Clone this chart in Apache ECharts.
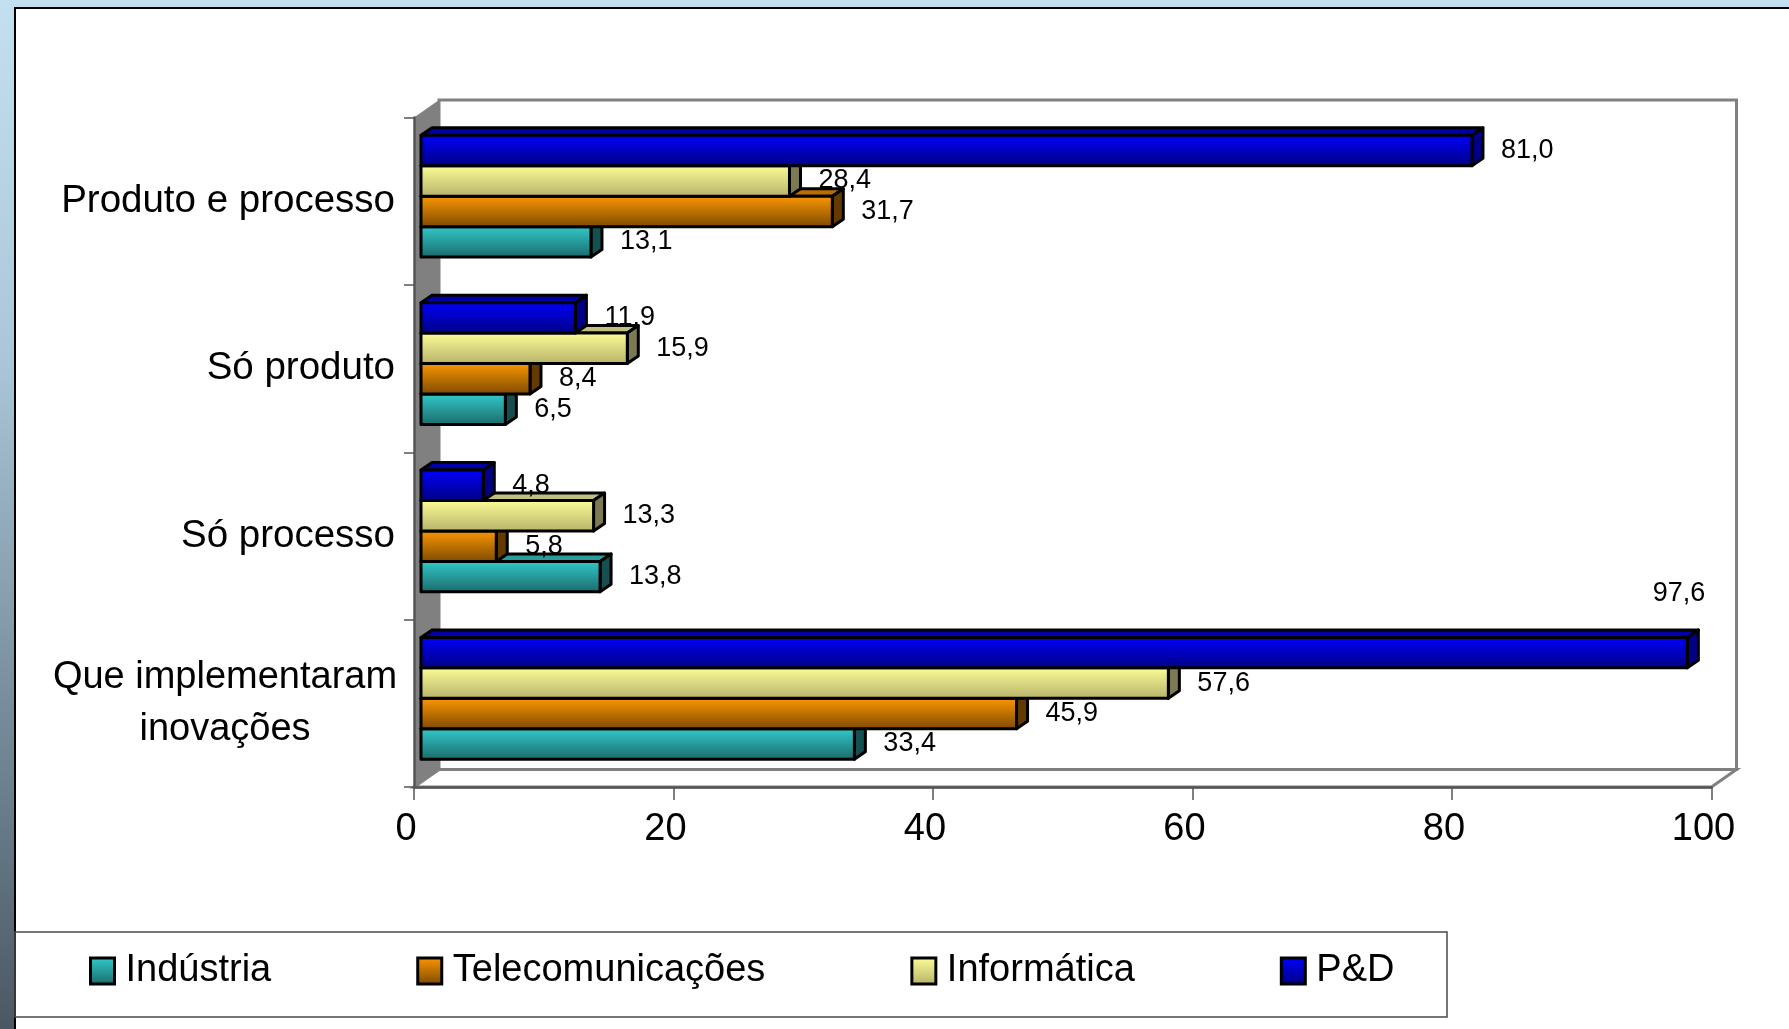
<!DOCTYPE html>
<html>
<head>
<meta charset="utf-8">
<script src="https://cdn.jsdelivr.net/npm/echarts@6/dist/echarts.min.js"></script>
<style>
html,body{margin:0;padding:0;background:#fff;}
#chart{width:1789px;height:1029px;}
</style>
</head>
<body>
<div id="chart"></div>
<script>
// ---- data ----
const categories = ['Produto e processo', 'Só produto', 'Só processo', 'Que implementaram inovações'];
const seriesNames = ['Indústria', 'Telecomunicações', 'Informática', 'P&D'];
const industria = [13.1, 6.5, 13.8, 33.4];
const telecom = [31.7, 8.4, 5.8, 45.9];
const informatica = [28.4, 15.9, 13.3, 57.6];
const ped = [81.0, 11.9, 4.8, 97.6];
const xTickValues = [0, 20, 40, 60, 80, 100];

// ---- styles ----
const FONT = "'Liberation Sans', Arial, sans-serif";
const DX = 25, DY = 17.5;      // wall depth
const BDX = 11, BDY = 7.5;     // bar depth
const palette = [
  {top: '#33cccc', bottom: '#1a6868', side: '#164f4f', cap: '#2a9c9c'},
  {top: '#ff9900', bottom: '#7a4800', side: '#633a00', cap: '#b86e00'},
  {top: '#ffff99', bottom: '#b5b068', side: '#7c7a52', cap: '#c2bf80'},
  {top: '#0000ff', bottom: '#000080', side: '#000085', cap: '#0000a8'}
];
const seriesValues = [industria, telecom, informatica, ped];

function grad(p) {
  return new echarts.graphic.LinearGradient(0, 0, 0, 1, [
    {offset: 0, color: p.top}, {offset: 1, color: p.bottom}
  ]);
}
function fmt(v) { return v.toFixed(1).replace('.', ','); }

function renderWalls(params, api) {
  const cs = params.coordSys;
  const L = cs.x, T = cs.y, R = cs.x + cs.width, B = cs.y + cs.height;
  return {
    type: 'group',
    children: [
      {type: 'rect', shape: {x: L + DX, y: T - DY, width: cs.width, height: cs.height},
       style: {fill: '#ffffff', stroke: '#808080', lineWidth: 3}},
      {type: 'polygon', shape: {points: [[L, B], [L + DX, B - DY], [R + DX, B - DY], [R, B]]},
       style: {fill: '#ffffff', stroke: '#808080', lineWidth: 3}},
      {type: 'polygon', shape: {points: [[L, T], [L + DX, T - DY], [L + DX, B - DY], [L, B]]},
       style: {fill: '#808080'}}
    ]
  };
}

function makeBarRenderer(k) {
  const p = palette[k];
  return function (params, api) {
    const cs = params.coordSys;
    const v = api.value(0), c = api.value(1);
    const p0 = api.coord([0, c]);
    const p1 = api.coord([v, c]);
    const band = api.size([0, 1])[1];
    const bh = band * 0.182;
    const j = 3 - k;
    const top = p0[1] - 5 - 2 * bh + j * bh;
    const xs = p0[0] + 7, xe = p1[0] + 7;
    const stroke = {stroke: '#000', lineWidth: 3, lineJoin: 'round'};
    const label = fmt(v);
    let textEl;
    const approxW = label.length * 14;
    if (xe + 30 + approxW > cs.x + cs.width + DX) {
      textEl = {type: 'text', style: {x: xe + 18, y: top - 44, text: label, fill: '#000',
        font: '27px ' + FONT, align: 'right', verticalAlign: 'middle'}};
    } else {
      textEl = {type: 'text', style: {x: xe + 29, y: top + bh / 2, text: label, fill: '#000',
        font: '27px ' + FONT, align: 'left', verticalAlign: 'middle'}};
    }
    return {
      type: 'group',
      children: [
        {type: 'polygon', shape: {points: [[xs, top], [xs + BDX, top - BDY], [xe + BDX, top - BDY], [xe, top]]},
         style: Object.assign({fill: p.cap}, stroke)},
        {type: 'polygon', shape: {points: [[xe, top], [xe + BDX, top - BDY], [xe + BDX, top + bh - BDY], [xe, top + bh]]},
         style: Object.assign({fill: p.side}, stroke)},
        {type: 'rect', shape: {x: xs, y: top, width: xe - xs, height: bh},
         style: Object.assign({fill: grad(p)}, stroke)},
        textEl
      ]
    };
  };
}

const series = [{
  type: 'custom', name: '_walls', z: 1, silent: true,
  renderItem: renderWalls, data: [[0, 0]], encode: {x: 0, y: 1}
}];
seriesNames.forEach(function (name, k) {
  series.push({
    type: 'custom', name: name, z: 2 + k,
    itemStyle: {color: grad(palette[k])},
    renderItem: makeBarRenderer(k),
    encode: {x: 0, y: 1},
    data: seriesValues[k].map(function (v, i) { return [v, i]; })
  });
});

const chart = echarts.init(document.getElementById('chart'), null, {renderer: 'canvas'});
chart.setOption({
  animation: false,
  backgroundColor: new echarts.graphic.LinearGradient(0, 0, 0, 1, [
    {offset: 0, color: '#c4e0f0'}, {offset: 0.35, color: '#aac6d8'},
    {offset: 0.65, color: '#7d93a2'}, {offset: 1, color: '#4a5863'}
  ]),
  graphic: [
    {type: 'rect', z: -10, shape: {x: 15, y: 8, width: 1789, height: 1040},
     style: {fill: '#ffffff', stroke: '#000', lineWidth: 2}},
    {type: 'rect', z: 0, shape: {x: 15, y: 932, width: 1432, height: 85},
     style: {fill: 'none', stroke: '#4a4a4a', lineWidth: 1.5}}
  ],
  grid: {left: 414, right: 77.5, top: 117.5, bottom: 242, containLabel: false},
  xAxis: {
    type: 'value', min: 0, max: 100, interval: 20, z: 10,
    axisLine: {show: true, lineStyle: {color: '#555', width: 2.5}},
    axisTick: {show: true, length: 13, lineStyle: {color: '#555', width: 1.5}},
    splitLine: {show: false},
    axisLabel: {fontFamily: FONT, fontSize: 38, color: '#000', margin: 24,
      padding: [0, 16, 0, 0],
      formatter: function (v) { return xTickValues.indexOf(v) >= 0 ? String(v) : ''; }}
  },
  yAxis: {
    type: 'category', data: categories, inverse: true, z: 10,
    axisLine: {show: true, lineStyle: {color: '#555', width: 2.5}},
    axisTick: {show: true, length: 10, lineStyle: {color: '#555', width: 1.5}},
    axisLabel: {
      fontFamily: FONT, fontSize: 38.5, color: '#000', margin: 19, lineHeight: 52,
      formatter: function (v) {
        if (v.length > 20) {
          const idx = v.lastIndexOf(' ');
          return '{c|' + v.slice(0, idx) + '}\n{c|' + v.slice(idx + 1) + '}';
        }
        return v;
      },
      rich: {c: {width: 340, align: 'center', fontFamily: FONT, fontSize: 38, lineHeight: 52, color: '#000'}}
    }
  },
  legend: {
    data: seriesNames, left: 84, top: 947, orient: 'horizontal',
    itemWidth: 24, itemHeight: 26, itemGap: 145, icon: 'rect',
    itemStyle: {borderColor: '#000', borderWidth: 3},
    textStyle: {fontFamily: FONT, fontSize: 38, color: '#000', padding: [0, 0, 0, 6]}
  },
  series: series
});
</script>
</body>
</html>
